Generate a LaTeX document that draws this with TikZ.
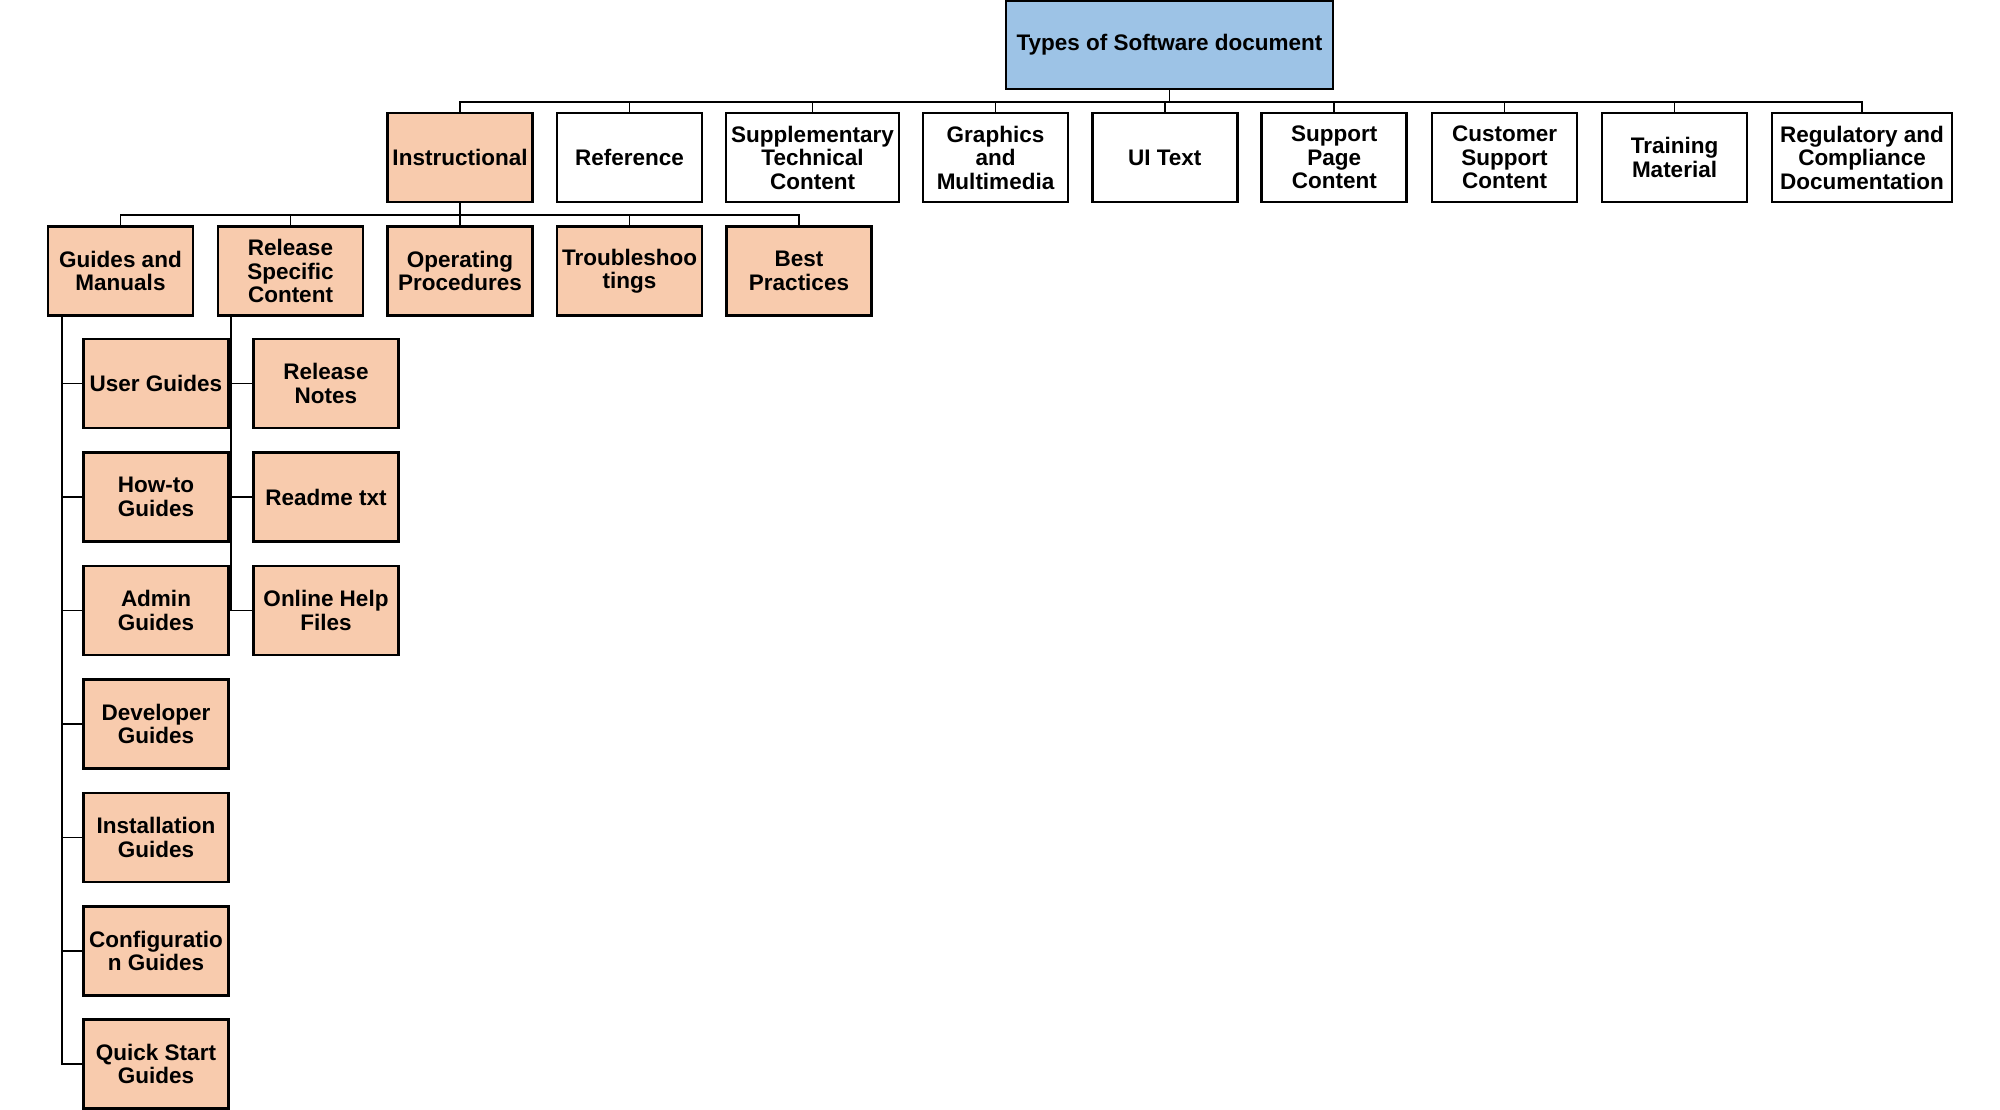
\documentclass[tikz,border=0pt]{standalone}
\usepackage{fontspec}
\setmainfont{Liberation Sans}
\definecolor{peach}{HTML}{F8CBAD}
\definecolor{skyb}{HTML}{9DC3E6}
\tikzset{
  pbox/.style={draw=black, line width=2.7pt, inner sep=0pt, align=center,
    font=\bfseries\fontsize{22.5}{23.5}\selectfont,
    minimum width=145pt, minimum height=89pt},
  peachbox/.style={pbox, fill=peach},
  whitebox/.style={pbox, fill=white},
  conn/.style={line width=1.8pt, line cap=rect},
}
\begin{document}
\begin{tikzpicture}[x=1pt,y=-1pt]
\useasboundingbox (0,0) rectangle (2000,1109);
% root
\node[pbox, fill=skyb, minimum width=327pt, minimum height=88pt] (root) at (1169.5,45) {Types of Software document};
% row 1
\node[peachbox] (inst) at (460,157.5) {Instructional};
\node[whitebox] (ref) at (629.5,157.5) {Reference};
\node[whitebox, minimum width=173pt] (supp) at (812.5,157.5) {Supplementary\\Technical\\Content};
\node[whitebox] (graph) at (995.5,157.5) {Graphics\\and\\Multimedia};
\node[whitebox] (ui) at (1164.75,157.5) {UI Text};
\node[whitebox] (supp2) at (1334.25,157.5) {Support\\Page\\Content};
\node[whitebox] (cust) at (1504.5,157.5) {Customer\\Support\\Content};
\node[whitebox] (train) at (1674.5,157.5) {Training\\Material};
\node[whitebox, minimum width=180pt] (reg) at (1862,157.5) {Regulatory and\\Compliance\\Documentation};
% row 2
\node[peachbox] (guides) at (120.5,271) {Guides and\\Manuals};
\node[peachbox] (rel) at (290.5,271) {Release\\Specific\\Content};
\node[peachbox] (oper) at (460,271) {Operating\\Procedures};
\node[peachbox] (troub) at (629.5,271) {Troubleshoo\\tings};
\node[peachbox] (best) at (799,271) {Best\\Practices};
% guides column
\node[peachbox] (user) at (156,383.5) {User Guides};
\node[peachbox] (howto) at (156,497) {How-to\\Guides};
\node[peachbox] (admin) at (156,610.5) {Admin\\Guides};
\node[peachbox] (dev) at (156,724) {Developer\\Guides};
\node[peachbox] (inst2) at (156,837.5) {Installation\\Guides};
\node[peachbox] (conf) at (156,951) {Configuratio\\n Guides};
\node[peachbox] (quick) at (156,1064) {Quick Start\\Guides};
% release column
\node[peachbox] (notes) at (326,383.5) {Release\\Notes};
\node[peachbox] (readme) at (326,497) {Readme txt};
\node[peachbox] (online) at (326,610.5) {Online Help\\Files};
% connectors row 1
\foreach \c in {inst,ref,supp,graph,ui,supp2,cust,train,reg}
  \draw[conn] (root.south) -- ++(0,-12pt) -| (\c.north);
% connectors row 2
\foreach \c in {guides,rel,oper,troub,best}
  \draw[conn] (inst.south) -- ++(0,-12pt) -| (\c.north);
% guides column
\foreach \c in {user,howto,admin,dev,inst2,conf,quick}
  \draw[conn] ([xshift=15pt]guides.south west) |- (\c.west);
% release column
\foreach \c in {notes,readme,online}
  \draw[conn] ([xshift=14.5pt]rel.south west) |- (\c.west);
\end{tikzpicture}
\end{document}
